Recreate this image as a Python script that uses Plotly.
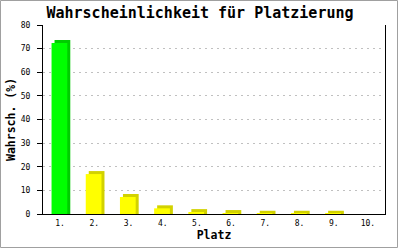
import plotly.graph_objects as go

# data
plaetze = ["1.", "2.", "3.", "4.", "5.", "6.", "7.", "8.", "9.", "10."]
wahrscheinlichkeit = [72.4, 16.9, 7.2, 2.4, 0.8, 0.4, 0.1, 0.1, 0.1, 0.0]
y_ticks = [0, 10, 20, 30, 40, 50, 60, 70, 80]

front_colors = ["#00ff00"] + ["#ffff00"] * 9
side_colors = ["#00cc00"] + ["#d2d200"] * 9

W, H = 400, 250
ML, MR, MT, MB = 43, 15, 25, 36
plot_h = H - MT - MB
plot_w = W - ML - MR
ymax = 80
depth_px = 3
depth_y = depth_px * ymax / plot_h
depth_x = depth_px * len(plaetze) / plot_w

shadow_h = [v + depth_y if v > 0 else 0 for v in wahrscheinlichkeit]

bar_w = 0.46
bar_off = -0.25

fig = go.Figure()
fig.add_trace(go.Bar(
    x=plaetze, y=shadow_h, width=bar_w, offset=bar_off + depth_x,
    marker=dict(color=side_colors, line=dict(width=0)),
    hoverinfo="skip", showlegend=False))
fig.add_trace(go.Bar(
    x=plaetze, y=wahrscheinlichkeit, width=bar_w, offset=bar_off,
    marker=dict(color=front_colors, line=dict(width=0)),
    showlegend=False))

mono = "DejaVu Sans Mono"
fig.update_layout(
    width=W, height=H,
    margin=dict(l=ML, r=MR, t=MT, b=MB, pad=0, autoexpand=False),
    paper_bgcolor="white", plot_bgcolor="white",
    barmode="overlay",
    title=dict(text="Wahrscheinlichkeit für Platzierung", x=0.5, xref="container",
               y=1 - 13 / H, yref="container", xanchor="center", yanchor="middle",
               font=dict(family=mono, size=15, color="black", weight="bold")),
    font=dict(family=mono, size=8, color="black"),
    xaxis=dict(
        automargin=False,
        showline=True, linecolor="black", linewidth=1,
        ticks="", showgrid=False, zeroline=False,
        tickfont=dict(family=mono, size=8, color="black"),
        ticklabelstandoff=1,
        title=dict(text="Platz", standoff=4,
                   font=dict(family=mono, size=11.5, color="black", weight="bold")),
    ),
    yaxis=dict(
        automargin=False,
        range=[0, ymax], tickvals=y_ticks, ticks="outside", ticklen=5,
        tickcolor="black", tickwidth=1,
        showline=True, linecolor="black", linewidth=1, mirror=True,
        showgrid=True, gridcolor="#c0c0c0", gridwidth=1, griddash="2px,4px",
        zeroline=False,
        tickfont=dict(family=mono, size=8, color="black"),
        ticklabelstandoff=5,
        title=dict(text="Wahrsch. (%)", standoff=2,
                   font=dict(family=mono, size=11.5, color="black", weight="bold")),
    ),
    shapes=[dict(type="rect", xref="paper", yref="paper",
                 x0=(0.5 - ML) / plot_w, x1=(W - 2.5 - ML) / plot_w,
                 y0=-(MB - 2.5) / plot_h, y1=1 + (MT - 0.5) / plot_h,
                 line=dict(color="#a0a0a0", width=1), layer="below")],
)

fig.write_html("out.html")
